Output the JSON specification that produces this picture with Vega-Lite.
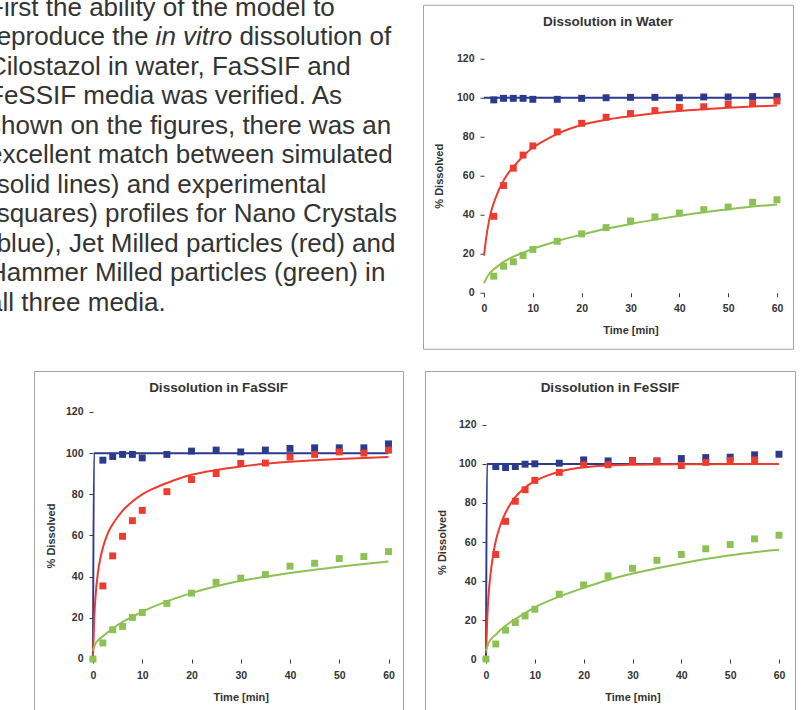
{
  "$schema": "https://vega.github.io/schema/vega-lite/v6.json",
  "padding": 0,
  "background": "white",
  "config": {"view": {"stroke": null}, "font": "Liberation Sans"},
  "datasets": {
    "txt": [
      {"line": 1, "x": -12, "i": 0, "t": "First the ability of the model to"},
      {"line": 2, "x": -12, "i": 0, "t": "reproduce the"},
      {"line": 2, "x": 155.6, "i": 1, "t": "in vitro"},
      {"line": 2, "x": 239.4, "i": 0, "t": "dissolution of"},
      {"line": 3, "x": -12, "i": 0, "t": "Cilostazol in water, FaSSIF and"},
      {"line": 4, "x": -12, "i": 0, "t": "FeSSIF media was verified. As"},
      {"line": 5, "x": -12, "i": 0, "t": "shown on the figures, there was an"},
      {"line": 6, "x": -12, "i": 0, "t": "excellent match between simulated"},
      {"line": 7, "x": -12, "i": 0, "t": "(solid lines) and experimental"},
      {"line": 8, "x": -12, "i": 0, "t": "(squares) profiles for Nano Crystals"},
      {"line": 9, "x": -12, "i": 0, "t": "(blue), Jet Milled particles (red) and"},
      {"line": 10, "x": -12, "i": 0, "t": "Hammer Milled particles (green) in"},
      {"line": 11, "x": -12, "i": 0, "t": "all three media."}
    ],
    "pts": [
      {"m": "W", "s": "N", "t": 2, "p": 98.9}, {"m": "W", "s": "N", "t": 4, "p": 99.7}, {"m": "W", "s": "N", "t": 6, "p": 99.7}, {"m": "W", "s": "N", "t": 8, "p": 99.7}, {"m": "W", "s": "N", "t": 10, "p": 99.2}, {"m": "W", "s": "N", "t": 15, "p": 99.2}, {"m": "W", "s": "N", "t": 20, "p": 99.7}, {"m": "W", "s": "N", "t": 25, "p": 100}, {"m": "W", "s": "N", "t": 30, "p": 100.2}, {"m": "W", "s": "N", "t": 35, "p": 100.2}, {"m": "W", "s": "N", "t": 40, "p": 100}, {"m": "W", "s": "N", "t": 45, "p": 100.4}, {"m": "W", "s": "N", "t": 50, "p": 100.4}, {"m": "W", "s": "N", "t": 55, "p": 100.6}, {"m": "W", "s": "N", "t": 60, "p": 100.6},
      {"m": "W", "s": "J", "t": 2, "p": 39.2}, {"m": "W", "s": "J", "t": 4, "p": 55}, {"m": "W", "s": "J", "t": 6, "p": 63.9}, {"m": "W", "s": "J", "t": 8, "p": 70.6}, {"m": "W", "s": "J", "t": 10, "p": 75.3}, {"m": "W", "s": "J", "t": 15, "p": 82.5}, {"m": "W", "s": "J", "t": 20, "p": 86.9}, {"m": "W", "s": "J", "t": 25, "p": 90}, {"m": "W", "s": "J", "t": 30, "p": 91.9}, {"m": "W", "s": "J", "t": 35, "p": 93.4}, {"m": "W", "s": "J", "t": 40, "p": 95.1}, {"m": "W", "s": "J", "t": 45, "p": 95.4}, {"m": "W", "s": "J", "t": 50, "p": 96.6}, {"m": "W", "s": "J", "t": 55, "p": 97}, {"m": "W", "s": "J", "t": 60, "p": 98.3},
      {"m": "W", "s": "H", "t": 2, "p": 8.5}, {"m": "W", "s": "H", "t": 4, "p": 13.6}, {"m": "W", "s": "H", "t": 6, "p": 15.9}, {"m": "W", "s": "H", "t": 8, "p": 19.1}, {"m": "W", "s": "H", "t": 10, "p": 22.2}, {"m": "W", "s": "H", "t": 15, "p": 26.4}, {"m": "W", "s": "H", "t": 20, "p": 30.2}, {"m": "W", "s": "H", "t": 25, "p": 33.4}, {"m": "W", "s": "H", "t": 30, "p": 36.8}, {"m": "W", "s": "H", "t": 35, "p": 38.9}, {"m": "W", "s": "H", "t": 40, "p": 40.9}, {"m": "W", "s": "H", "t": 45, "p": 42.6}, {"m": "W", "s": "H", "t": 50, "p": 44}, {"m": "W", "s": "H", "t": 55, "p": 46.4}, {"m": "W", "s": "H", "t": 60, "p": 47.7},
      {"m": "Fa", "s": "N", "t": 2, "p": 96.6}, {"m": "Fa", "s": "N", "t": 4, "p": 98.4}, {"m": "Fa", "s": "N", "t": 6, "p": 99.4}, {"m": "Fa", "s": "N", "t": 8, "p": 99.4}, {"m": "Fa", "s": "N", "t": 10, "p": 97.7}, {"m": "Fa", "s": "N", "t": 15, "p": 99.4}, {"m": "Fa", "s": "N", "t": 20, "p": 101}, {"m": "Fa", "s": "N", "t": 25, "p": 101.5}, {"m": "Fa", "s": "N", "t": 30, "p": 100.6}, {"m": "Fa", "s": "N", "t": 35, "p": 101.5}, {"m": "Fa", "s": "N", "t": 40, "p": 102.3}, {"m": "Fa", "s": "N", "t": 45, "p": 102.6}, {"m": "Fa", "s": "N", "t": 50, "p": 102.6}, {"m": "Fa", "s": "N", "t": 55, "p": 102.6}, {"m": "Fa", "s": "N", "t": 60, "p": 104.5},
      {"m": "Fa", "s": "J", "t": 2, "p": 35.5}, {"m": "Fa", "s": "J", "t": 4, "p": 50.1}, {"m": "Fa", "s": "J", "t": 6, "p": 59.6}, {"m": "Fa", "s": "J", "t": 8, "p": 67.2}, {"m": "Fa", "s": "J", "t": 10, "p": 72.2}, {"m": "Fa", "s": "J", "t": 15, "p": 81.3}, {"m": "Fa", "s": "J", "t": 20, "p": 87.2}, {"m": "Fa", "s": "J", "t": 25, "p": 90.1}, {"m": "Fa", "s": "J", "t": 30, "p": 95}, {"m": "Fa", "s": "J", "t": 35, "p": 95.2}, {"m": "Fa", "s": "J", "t": 40, "p": 98.1}, {"m": "Fa", "s": "J", "t": 45, "p": 99.4}, {"m": "Fa", "s": "J", "t": 50, "p": 100.6}, {"m": "Fa", "s": "J", "t": 55, "p": 100}, {"m": "Fa", "s": "J", "t": 60, "p": 101.5},
      {"m": "Fa", "s": "H", "t": 0, "p": 0}, {"m": "Fa", "s": "H", "t": 2, "p": 7.8}, {"m": "Fa", "s": "H", "t": 4, "p": 14.2}, {"m": "Fa", "s": "H", "t": 6, "p": 15.8}, {"m": "Fa", "s": "H", "t": 8, "p": 20.2}, {"m": "Fa", "s": "H", "t": 10, "p": 22.6}, {"m": "Fa", "s": "H", "t": 15, "p": 27}, {"m": "Fa", "s": "H", "t": 20, "p": 32}, {"m": "Fa", "s": "H", "t": 25, "p": 37.3}, {"m": "Fa", "s": "H", "t": 30, "p": 39.3}, {"m": "Fa", "s": "H", "t": 35, "p": 41}, {"m": "Fa", "s": "H", "t": 40, "p": 45.1}, {"m": "Fa", "s": "H", "t": 45, "p": 46.5}, {"m": "Fa", "s": "H", "t": 50, "p": 48.8}, {"m": "Fa", "s": "H", "t": 55, "p": 49.8}, {"m": "Fa", "s": "H", "t": 60, "p": 52.2},
      {"m": "Fe", "s": "N", "t": 2, "p": 98.7}, {"m": "Fe", "s": "N", "t": 4, "p": 98.2}, {"m": "Fe", "s": "N", "t": 6, "p": 98.7}, {"m": "Fe", "s": "N", "t": 8, "p": 99.9}, {"m": "Fe", "s": "N", "t": 10, "p": 100.1}, {"m": "Fe", "s": "N", "t": 15, "p": 100.4}, {"m": "Fe", "s": "N", "t": 20, "p": 102.1}, {"m": "Fe", "s": "N", "t": 25, "p": 101.6}, {"m": "Fe", "s": "N", "t": 30, "p": 101.8}, {"m": "Fe", "s": "N", "t": 35, "p": 101.6}, {"m": "Fe", "s": "N", "t": 40, "p": 102.8}, {"m": "Fe", "s": "N", "t": 45, "p": 103.3}, {"m": "Fe", "s": "N", "t": 50, "p": 103.5}, {"m": "Fe", "s": "N", "t": 55, "p": 104.7}, {"m": "Fe", "s": "N", "t": 60, "p": 105},
      {"m": "Fe", "s": "J", "t": 2, "p": 53.6}, {"m": "Fe", "s": "J", "t": 4, "p": 70.6}, {"m": "Fe", "s": "J", "t": 6, "p": 80.9}, {"m": "Fe", "s": "J", "t": 8, "p": 86.8}, {"m": "Fe", "s": "J", "t": 10, "p": 91.6}, {"m": "Fe", "s": "J", "t": 15, "p": 95.7}, {"m": "Fe", "s": "J", "t": 20, "p": 99.6}, {"m": "Fe", "s": "J", "t": 25, "p": 99.6}, {"m": "Fe", "s": "J", "t": 30, "p": 101.6}, {"m": "Fe", "s": "J", "t": 35, "p": 101.4}, {"m": "Fe", "s": "J", "t": 40, "p": 99.2}, {"m": "Fe", "s": "J", "t": 45, "p": 100.8}, {"m": "Fe", "s": "J", "t": 50, "p": 101.8}, {"m": "Fe", "s": "J", "t": 55, "p": 102.1},
      {"m": "Fe", "s": "H", "t": 0, "p": 0}, {"m": "Fe", "s": "H", "t": 2, "p": 7.7}, {"m": "Fe", "s": "H", "t": 4, "p": 14.8}, {"m": "Fe", "s": "H", "t": 6, "p": 18.7}, {"m": "Fe", "s": "H", "t": 8, "p": 22.1}, {"m": "Fe", "s": "H", "t": 10, "p": 25.5}, {"m": "Fe", "s": "H", "t": 15, "p": 33.2}, {"m": "Fe", "s": "H", "t": 20, "p": 38}, {"m": "Fe", "s": "H", "t": 25, "p": 42.6}, {"m": "Fe", "s": "H", "t": 30, "p": 46.5}, {"m": "Fe", "s": "H", "t": 35, "p": 50.6}, {"m": "Fe", "s": "H", "t": 40, "p": 53.6}, {"m": "Fe", "s": "H", "t": 45, "p": 56.5}, {"m": "Fe", "s": "H", "t": 50, "p": 58.7}, {"m": "Fe", "s": "H", "t": 55, "p": 61.6}, {"m": "Fe", "s": "H", "t": 60, "p": 63.5}
    ],
    "cur": [
      {"m": "W", "s": "N", "t": 0, "p": 100}, {"m": "W", "s": "N", "t": 60, "p": 100},
      {"m": "W", "s": "J", "t": 0, "p": 19}, {"m": "W", "s": "J", "t": 0.5, "p": 29}, {"m": "W", "s": "J", "t": 1, "p": 36.5}, {"m": "W", "s": "J", "t": 1.5, "p": 42}, {"m": "W", "s": "J", "t": 2, "p": 46}, {"m": "W", "s": "J", "t": 3, "p": 52.5}, {"m": "W", "s": "J", "t": 4, "p": 57.5}, {"m": "W", "s": "J", "t": 5, "p": 61.5}, {"m": "W", "s": "J", "t": 6, "p": 64.5}, {"m": "W", "s": "J", "t": 8, "p": 70}, {"m": "W", "s": "J", "t": 10, "p": 74.5}, {"m": "W", "s": "J", "t": 12, "p": 77.5}, {"m": "W", "s": "J", "t": 15, "p": 81.5}, {"m": "W", "s": "J", "t": 20, "p": 86}, {"m": "W", "s": "J", "t": 25, "p": 88.7}, {"m": "W", "s": "J", "t": 30, "p": 90.5}, {"m": "W", "s": "J", "t": 35, "p": 92}, {"m": "W", "s": "J", "t": 40, "p": 93.2}, {"m": "W", "s": "J", "t": 45, "p": 94.1}, {"m": "W", "s": "J", "t": 50, "p": 94.9}, {"m": "W", "s": "J", "t": 55, "p": 95.5}, {"m": "W", "s": "J", "t": 60, "p": 96},
      {"m": "W", "s": "H", "t": 0, "p": 5}, {"m": "W", "s": "H", "t": 0.5, "p": 7.5}, {"m": "W", "s": "H", "t": 1, "p": 9.5}, {"m": "W", "s": "H", "t": 2, "p": 12}, {"m": "W", "s": "H", "t": 3, "p": 14}, {"m": "W", "s": "H", "t": 4, "p": 15.8}, {"m": "W", "s": "H", "t": 6, "p": 18.5}, {"m": "W", "s": "H", "t": 8, "p": 20.5}, {"m": "W", "s": "H", "t": 10, "p": 22.5}, {"m": "W", "s": "H", "t": 15, "p": 26.5}, {"m": "W", "s": "H", "t": 20, "p": 29.8}, {"m": "W", "s": "H", "t": 25, "p": 32.8}, {"m": "W", "s": "H", "t": 30, "p": 35.3}, {"m": "W", "s": "H", "t": 35, "p": 37.5}, {"m": "W", "s": "H", "t": 40, "p": 39.5}, {"m": "W", "s": "H", "t": 45, "p": 41.3}, {"m": "W", "s": "H", "t": 50, "p": 42.8}, {"m": "W", "s": "H", "t": 55, "p": 44.2}, {"m": "W", "s": "H", "t": 60, "p": 45.3},
      {"m": "Fa", "s": "N", "t": 0, "p": 0}, {"m": "Fa", "s": "N", "t": 0.2, "p": 100}, {"m": "Fa", "s": "N", "t": 60, "p": 100},
      {"m": "Fa", "s": "J", "t": 0, "p": 2}, {"m": "Fa", "s": "J", "t": 0.25, "p": 20}, {"m": "Fa", "s": "J", "t": 0.5, "p": 30}, {"m": "Fa", "s": "J", "t": 1, "p": 42}, {"m": "Fa", "s": "J", "t": 1.5, "p": 49}, {"m": "Fa", "s": "J", "t": 2, "p": 54}, {"m": "Fa", "s": "J", "t": 3, "p": 61}, {"m": "Fa", "s": "J", "t": 4, "p": 65.5}, {"m": "Fa", "s": "J", "t": 5, "p": 69}, {"m": "Fa", "s": "J", "t": 6, "p": 72}, {"m": "Fa", "s": "J", "t": 8, "p": 76.5}, {"m": "Fa", "s": "J", "t": 10, "p": 80}, {"m": "Fa", "s": "J", "t": 12, "p": 82.5}, {"m": "Fa", "s": "J", "t": 15, "p": 85.5}, {"m": "Fa", "s": "J", "t": 20, "p": 89.5}, {"m": "Fa", "s": "J", "t": 25, "p": 91.8}, {"m": "Fa", "s": "J", "t": 30, "p": 93.5}, {"m": "Fa", "s": "J", "t": 35, "p": 94.8}, {"m": "Fa", "s": "J", "t": 40, "p": 95.8}, {"m": "Fa", "s": "J", "t": 45, "p": 96.6}, {"m": "Fa", "s": "J", "t": 50, "p": 97.2}, {"m": "Fa", "s": "J", "t": 55, "p": 97.7}, {"m": "Fa", "s": "J", "t": 60, "p": 98.1},
      {"m": "Fa", "s": "H", "t": 0, "p": 4}, {"m": "Fa", "s": "H", "t": 0.5, "p": 7.5}, {"m": "Fa", "s": "H", "t": 1, "p": 9}, {"m": "Fa", "s": "H", "t": 2, "p": 11}, {"m": "Fa", "s": "H", "t": 3, "p": 13}, {"m": "Fa", "s": "H", "t": 4, "p": 14.8}, {"m": "Fa", "s": "H", "t": 6, "p": 18}, {"m": "Fa", "s": "H", "t": 8, "p": 20.5}, {"m": "Fa", "s": "H", "t": 10, "p": 23}, {"m": "Fa", "s": "H", "t": 15, "p": 28}, {"m": "Fa", "s": "H", "t": 20, "p": 32}, {"m": "Fa", "s": "H", "t": 25, "p": 35.3}, {"m": "Fa", "s": "H", "t": 30, "p": 38}, {"m": "Fa", "s": "H", "t": 35, "p": 40}, {"m": "Fa", "s": "H", "t": 40, "p": 41.8}, {"m": "Fa", "s": "H", "t": 45, "p": 43.4}, {"m": "Fa", "s": "H", "t": 50, "p": 44.8}, {"m": "Fa", "s": "H", "t": 55, "p": 46.2}, {"m": "Fa", "s": "H", "t": 60, "p": 47.4},
      {"m": "Fe", "s": "N", "t": 0, "p": 0}, {"m": "Fe", "s": "N", "t": 0.2, "p": 100}, {"m": "Fe", "s": "N", "t": 60, "p": 100},
      {"m": "Fe", "s": "J", "t": 0, "p": 3}, {"m": "Fe", "s": "J", "t": 0.25, "p": 20}, {"m": "Fe", "s": "J", "t": 0.5, "p": 32}, {"m": "Fe", "s": "J", "t": 1, "p": 45}, {"m": "Fe", "s": "J", "t": 1.5, "p": 54}, {"m": "Fe", "s": "J", "t": 2, "p": 60.5}, {"m": "Fe", "s": "J", "t": 3, "p": 69}, {"m": "Fe", "s": "J", "t": 4, "p": 75}, {"m": "Fe", "s": "J", "t": 5, "p": 79.5}, {"m": "Fe", "s": "J", "t": 6, "p": 83}, {"m": "Fe", "s": "J", "t": 8, "p": 88}, {"m": "Fe", "s": "J", "t": 10, "p": 91.2}, {"m": "Fe", "s": "J", "t": 12, "p": 93.5}, {"m": "Fe", "s": "J", "t": 15, "p": 96}, {"m": "Fe", "s": "J", "t": 20, "p": 98.3}, {"m": "Fe", "s": "J", "t": 25, "p": 99.2}, {"m": "Fe", "s": "J", "t": 30, "p": 99.6}, {"m": "Fe", "s": "J", "t": 40, "p": 99.9}, {"m": "Fe", "s": "J", "t": 60, "p": 100},
      {"m": "Fe", "s": "H", "t": 0, "p": 4}, {"m": "Fe", "s": "H", "t": 0.5, "p": 8}, {"m": "Fe", "s": "H", "t": 1, "p": 10}, {"m": "Fe", "s": "H", "t": 2, "p": 12.5}, {"m": "Fe", "s": "H", "t": 3, "p": 15}, {"m": "Fe", "s": "H", "t": 4, "p": 17}, {"m": "Fe", "s": "H", "t": 6, "p": 20.5}, {"m": "Fe", "s": "H", "t": 8, "p": 23.5}, {"m": "Fe", "s": "H", "t": 10, "p": 26.5}, {"m": "Fe", "s": "H", "t": 15, "p": 32}, {"m": "Fe", "s": "H", "t": 20, "p": 36.5}, {"m": "Fe", "s": "H", "t": 25, "p": 40.5}, {"m": "Fe", "s": "H", "t": 30, "p": 43.8}, {"m": "Fe", "s": "H", "t": 35, "p": 46.5}, {"m": "Fe", "s": "H", "t": 40, "p": 49}, {"m": "Fe", "s": "H", "t": 45, "p": 51.3}, {"m": "Fe", "s": "H", "t": 50, "p": 53.2}, {"m": "Fe", "s": "H", "t": 55, "p": 54.8}, {"m": "Fe", "s": "H", "t": 60, "p": 56}
    ]
  },
  "spacing": 16,
  "vconcat": [
    {
      "hconcat": [
        {
          "width": 410, "height": 354,
          "view": {"stroke": null},
          "data": {"name": "txt"},
          "encoding": {
            "x": {"field": "x", "type": "quantitative", "scale": {"domain": [0, 410], "nice": false, "zero": false}, "axis": null},
            "y": {"field": "line", "type": "quantitative", "scale": {"domain": [0.45763, 12.45763], "reverse": true, "nice": false, "zero": false}, "axis": null},
            "text": {"field": "t"}
          },
          "layer": [
            {"transform": [{"filter": "datum.i == 0"}], "mark": {"type": "text", "align": "left", "baseline": "alphabetic", "font": "Liberation Sans", "fontSize": 26, "color": "#333333", "clip": true}},
            {"transform": [{"filter": "datum.i == 1"}], "mark": {"type": "text", "align": "left", "baseline": "alphabetic", "font": "Liberation Sans", "fontSize": 26, "fontStyle": "italic", "color": "#333333", "clip": true}}
          ]
        },
        {
          "width": 370, "height": 344,
          "view": {"stroke": "#a3a3a3", "strokeWidth": 1},
          "title": {"text": "Dissolution in Water", "offset": -30.5, "baseline": "middle", "anchor": "middle", "frame": "group", "font": "Liberation Sans", "fontSize": 13.5, "fontWeight": "bold", "color": "#333333"},
          "layer": [
            {"mark": {"type": "rule", "color": "#d6d6d6", "strokeWidth": 1}, "encoding": {"x": {"datum": 0, "type": "quantitative", "scale": {"domain": [-12.491, 63.276], "nice": false, "zero": false}}, "x2": {"datum": 60}, "y": {"datum": 120, "type": "quantitative", "scale": {"domain": [-28.718, 147.692], "nice": false, "zero": false}}}},
            {"mark": {"type": "rule", "color": "#d6d6d6", "strokeWidth": 1}, "encoding": {"x": {"datum": 60, "type": "quantitative", "scale": {"domain": [-12.491, 63.276], "nice": false, "zero": false}}, "y": {"datum": 0, "type": "quantitative", "scale": {"domain": [-28.718, 147.692], "nice": false, "zero": false}}, "y2": {"datum": 120}}},
            {"mark": {"type": "rule", "color": "#3a3a3a", "strokeWidth": 1.3}, "encoding": {"x": {"datum": 0, "type": "quantitative", "scale": {"domain": [-12.491, 63.276], "nice": false, "zero": false}}, "x2": {"datum": 60}, "y": {"datum": 0, "type": "quantitative", "scale": {"domain": [-28.718, 147.692], "nice": false, "zero": false}}}},
            {"mark": {"type": "rule", "color": "#3a3a3a", "strokeWidth": 1.3}, "encoding": {"x": {"datum": 0, "type": "quantitative", "scale": {"domain": [-12.491, 63.276], "nice": false, "zero": false}}, "y": {"datum": 0, "type": "quantitative", "scale": {"domain": [-28.718, 147.692], "nice": false, "zero": false}}, "y2": {"datum": 120}}},
            {
              "data": {"name": "cur"},
              "transform": [{"filter": "datum.m === 'W'"}],
              "mark": {"type": "line", "strokeWidth": 2, "interpolate": "monotone"},
              "encoding": {
                "x": {"field": "t", "type": "quantitative", "scale": {"domain": [-12.491, 63.276], "nice": false, "zero": false}},
                "y": {"field": "p", "type": "quantitative", "scale": {"domain": [-28.718, 147.692], "nice": false, "zero": false}},
                "color": {"field": "s", "type": "nominal", "scale": {"domain": ["N", "J", "H"], "range": ["#2c3a8e", "#ee3b2f", "#8dc153"]}, "legend": null}
              }
            },
            {
              "data": {"name": "pts"},
              "transform": [{"filter": "datum.m === 'W'"}],
              "mark": {"type": "point", "shape": "square", "filled": true, "size": 48, "opacity": 1},
              "encoding": {
                "x": {"field": "t", "type": "quantitative", "scale": {"domain": [-12.491, 63.276], "nice": false, "zero": false},
                  "axis": {"title": "Time [min]", "values": [0, 10, 20, 30, 40, 50, 60], "offset": -56, "domain": false, "grid": false, "tickSize": 4, "tickColor": "#3a3a3a", "labelFlush": false, "labelOverlap": false, "labelPadding": 7, "labelFont": "Liberation Sans", "labelFontSize": 10.5, "labelFontWeight": "bold", "labelColor": "#333333", "titleFont": "Liberation Sans", "titleFontSize": 11, "titleFontWeight": "bold", "titleColor": "#333333", "titleX": 207.5, "titleY": 38, "titleBaseline": "middle"}},
                "y": {"field": "p", "type": "quantitative", "scale": {"domain": [-28.718, 147.692], "nice": false, "zero": false},
                  "axis": {"title": "% Dissolved", "values": [0, 20, 40, 60, 80, 100, 120], "offset": -61, "domain": false, "grid": false, "tickSize": 4, "tickColor": "#3a3a3a", "labelFlush": false, "labelOverlap": false, "labelPadding": 6, "labelFont": "Liberation Sans", "labelFontSize": 10.5, "labelFontWeight": "bold", "labelColor": "#333333", "titleFont": "Liberation Sans", "titleFontSize": 11, "titleFontWeight": "bold", "titleColor": "#333333", "titleX": -45, "titleY": 171, "titleBaseline": "middle"}},
                "color": {"field": "s", "type": "nominal", "scale": {"domain": ["N", "J", "H"], "range": ["#2c3a8e", "#ee3b2f", "#8dc153"]}, "legend": null}
              }
            }
          ]
        }
      ],
      "spacing": 12,
      "center": true
    },
    {
      "hconcat": [
        {
          "width": 13, "height": 10,
          "view": {"stroke": null},
          "data": {"values": [{"a": ""}]},
          "mark": {"type": "text"},
          "encoding": {"text": {"field": "a"}}
        },
        {
          "width": 369, "height": 342,
          "view": {"stroke": "#a3a3a3", "strokeWidth": 1},
          "title": {"text": "Dissolution in FaSSIF", "offset": -30.5, "baseline": "middle", "anchor": "middle", "frame": "group", "font": "Liberation Sans", "fontSize": 13.5, "fontWeight": "bold", "color": "#333333"},
          "layer": [
            {"mark": {"type": "rule", "color": "#d6d6d6", "strokeWidth": 1}, "encoding": {"x": {"datum": 0, "type": "quantitative", "scale": {"domain": [-11.98, 62.944], "nice": false, "zero": false}}, "x2": {"datum": 60}, "y": {"datum": 120, "type": "quantitative", "scale": {"domain": [-26.235, 139.919], "nice": false, "zero": false}}}},
            {"mark": {"type": "rule", "color": "#d6d6d6", "strokeWidth": 1}, "encoding": {"x": {"datum": 60, "type": "quantitative", "scale": {"domain": [-11.98, 62.944], "nice": false, "zero": false}}, "y": {"datum": 0, "type": "quantitative", "scale": {"domain": [-26.235, 139.919], "nice": false, "zero": false}}, "y2": {"datum": 120}}},
            {"mark": {"type": "rule", "color": "#3a3a3a", "strokeWidth": 1.3}, "encoding": {"x": {"datum": 0, "type": "quantitative", "scale": {"domain": [-11.98, 62.944], "nice": false, "zero": false}}, "x2": {"datum": 60}, "y": {"datum": 0, "type": "quantitative", "scale": {"domain": [-26.235, 139.919], "nice": false, "zero": false}}}},
            {"mark": {"type": "rule", "color": "#3a3a3a", "strokeWidth": 1.3}, "encoding": {"x": {"datum": 0, "type": "quantitative", "scale": {"domain": [-11.98, 62.944], "nice": false, "zero": false}}, "y": {"datum": 0, "type": "quantitative", "scale": {"domain": [-26.235, 139.919], "nice": false, "zero": false}}, "y2": {"datum": 120}}},
            {
              "data": {"name": "cur"},
              "transform": [{"filter": "datum.m === 'Fa'"}],
              "mark": {"type": "line", "strokeWidth": 2, "interpolate": "monotone"},
              "encoding": {
                "x": {"field": "t", "type": "quantitative", "scale": {"domain": [-11.98, 62.944], "nice": false, "zero": false}},
                "y": {"field": "p", "type": "quantitative", "scale": {"domain": [-26.235, 139.919], "nice": false, "zero": false}},
                "color": {"field": "s", "type": "nominal", "scale": {"domain": ["N", "J", "H"], "range": ["#2c3a8e", "#ee3b2f", "#8dc153"]}, "legend": null}
              }
            },
            {
              "data": {"name": "pts"},
              "transform": [{"filter": "datum.m === 'Fa'"}],
              "mark": {"type": "point", "shape": "square", "filled": true, "size": 48, "opacity": 1},
              "encoding": {
                "x": {"field": "t", "type": "quantitative", "scale": {"domain": [-11.98, 62.944], "nice": false, "zero": false},
                  "axis": {"title": "Time [min]", "values": [0, 10, 20, 30, 40, 50, 60], "offset": -54, "domain": false, "grid": false, "tickSize": 4, "tickColor": "#3a3a3a", "labelFlush": false, "labelOverlap": false, "labelPadding": 7, "labelFont": "Liberation Sans", "labelFontSize": 10.5, "labelFontWeight": "bold", "labelColor": "#333333", "titleFont": "Liberation Sans", "titleFontSize": 11, "titleFontWeight": "bold", "titleColor": "#333333", "titleX": 206.75, "titleY": 38.5, "titleBaseline": "middle"}},
                "y": {"field": "p", "type": "quantitative", "scale": {"domain": [-26.235, 139.919], "nice": false, "zero": false},
                  "axis": {"title": "% Dissolved", "values": [0, 20, 40, 60, 80, 100, 120], "offset": -59, "domain": false, "grid": false, "tickSize": 4, "tickColor": "#3a3a3a", "labelFlush": false, "labelOverlap": false, "labelPadding": 6, "labelFont": "Liberation Sans", "labelFontSize": 10.5, "labelFontWeight": "bold", "labelColor": "#333333", "titleFont": "Liberation Sans", "titleFontSize": 11, "titleFontWeight": "bold", "titleColor": "#333333", "titleX": -42, "titleY": 164.5, "titleBaseline": "middle"}},
                "color": {"field": "s", "type": "nominal", "scale": {"domain": ["N", "J", "H"], "range": ["#2c3a8e", "#ee3b2f", "#8dc153"]}, "legend": null}
              }
            }
          ]
        },
        {
          "width": 370, "height": 342,
          "view": {"stroke": "#a3a3a3", "strokeWidth": 1},
          "title": {"text": "Dissolution in FeSSIF", "offset": -30.5, "baseline": "middle", "anchor": "middle", "frame": "group", "font": "Liberation Sans", "fontSize": 13.5, "fontWeight": "bold", "color": "#333333"},
          "layer": [
            {"mark": {"type": "rule", "color": "#d6d6d6", "strokeWidth": 1}, "encoding": {"x": {"datum": 0, "type": "quantitative", "scale": {"domain": [-12.491, 63.276], "nice": false, "zero": false}}, "x2": {"datum": 60}, "y": {"datum": 120, "type": "quantitative", "scale": {"domain": [-27.692, 147.692], "nice": false, "zero": false}}}},
            {"mark": {"type": "rule", "color": "#d6d6d6", "strokeWidth": 1}, "encoding": {"x": {"datum": 60, "type": "quantitative", "scale": {"domain": [-12.491, 63.276], "nice": false, "zero": false}}, "y": {"datum": 0, "type": "quantitative", "scale": {"domain": [-27.692, 147.692], "nice": false, "zero": false}}, "y2": {"datum": 120}}},
            {"mark": {"type": "rule", "color": "#3a3a3a", "strokeWidth": 1.3}, "encoding": {"x": {"datum": 0, "type": "quantitative", "scale": {"domain": [-12.491, 63.276], "nice": false, "zero": false}}, "x2": {"datum": 60}, "y": {"datum": 0, "type": "quantitative", "scale": {"domain": [-27.692, 147.692], "nice": false, "zero": false}}}},
            {"mark": {"type": "rule", "color": "#3a3a3a", "strokeWidth": 1.3}, "encoding": {"x": {"datum": 0, "type": "quantitative", "scale": {"domain": [-12.491, 63.276], "nice": false, "zero": false}}, "y": {"datum": 0, "type": "quantitative", "scale": {"domain": [-27.692, 147.692], "nice": false, "zero": false}}, "y2": {"datum": 120}}},
            {
              "data": {"name": "cur"},
              "transform": [{"filter": "datum.m === 'Fe'"}],
              "mark": {"type": "line", "strokeWidth": 2, "interpolate": "monotone"},
              "encoding": {
                "x": {"field": "t", "type": "quantitative", "scale": {"domain": [-12.491, 63.276], "nice": false, "zero": false}},
                "y": {"field": "p", "type": "quantitative", "scale": {"domain": [-27.692, 147.692], "nice": false, "zero": false}},
                "color": {"field": "s", "type": "nominal", "scale": {"domain": ["N", "J", "H"], "range": ["#2c3a8e", "#ee3b2f", "#8dc153"]}, "legend": null}
              }
            },
            {
              "data": {"name": "pts"},
              "transform": [{"filter": "datum.m === 'Fe'"}],
              "mark": {"type": "point", "shape": "square", "filled": true, "size": 48, "opacity": 1},
              "encoding": {
                "x": {"field": "t", "type": "quantitative", "scale": {"domain": [-12.491, 63.276], "nice": false, "zero": false},
                  "axis": {"title": "Time [min]", "values": [0, 10, 20, 30, 40, 50, 60], "offset": -54, "domain": false, "grid": false, "tickSize": 4, "tickColor": "#3a3a3a", "labelFlush": false, "labelOverlap": false, "labelPadding": 7, "labelFont": "Liberation Sans", "labelFontSize": 10.5, "labelFontWeight": "bold", "labelColor": "#333333", "titleFont": "Liberation Sans", "titleFontSize": 11, "titleFontWeight": "bold", "titleColor": "#333333", "titleX": 207.5, "titleY": 38.5, "titleBaseline": "middle"}},
                "y": {"field": "p", "type": "quantitative", "scale": {"domain": [-27.692, 147.692], "nice": false, "zero": false},
                  "axis": {"title": "% Dissolved", "values": [0, 20, 40, 60, 80, 100, 120], "offset": -61, "domain": false, "grid": false, "tickSize": 4, "tickColor": "#3a3a3a", "labelFlush": false, "labelOverlap": false, "labelPadding": 6, "labelFont": "Liberation Sans", "labelFontSize": 10.5, "labelFontWeight": "bold", "labelColor": "#333333", "titleFont": "Liberation Sans", "titleFontSize": 11, "titleFontWeight": "bold", "titleColor": "#333333", "titleX": -44, "titleY": 171, "titleBaseline": "middle"}},
                "color": {"field": "s", "type": "nominal", "scale": {"domain": ["N", "J", "H"], "range": ["#2c3a8e", "#ee3b2f", "#8dc153"]}, "legend": null}
              }
            }
          ]
        }
      ],
      "spacing": 20
    }
  ]
}
